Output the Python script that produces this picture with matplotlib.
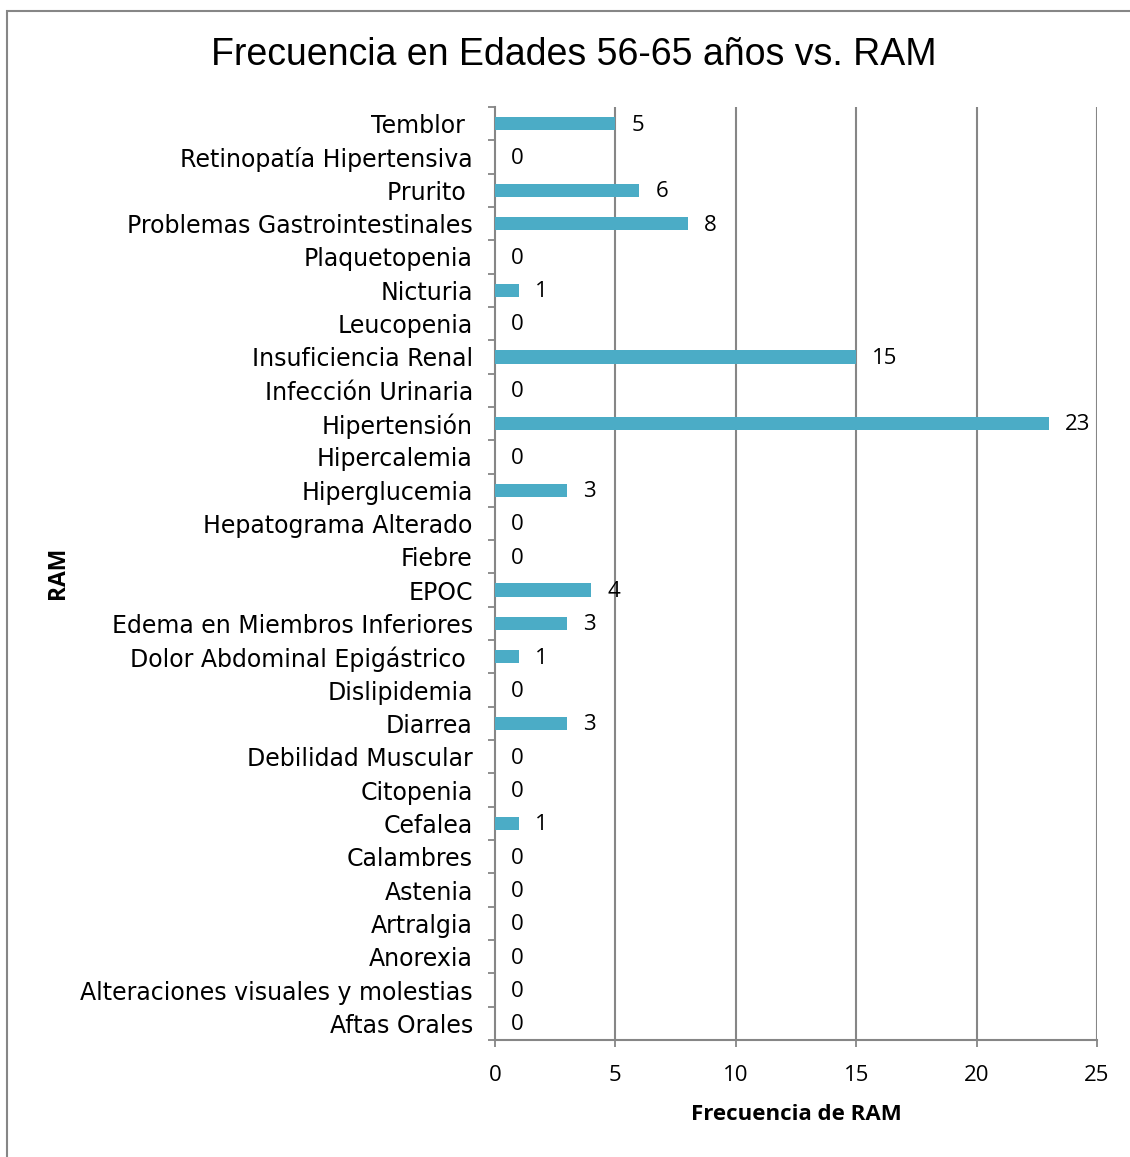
import matplotlib
matplotlib.use("Agg")
import matplotlib.pyplot as plt
from matplotlib.patches import Rectangle
import numpy as np

categories = [
    "Temblor ", "Retinopatía Hipertensiva", "Prurito ", "Problemas Gastrointestinales",
    "Plaquetopenia", "Nicturia", "Leucopenia", "Insuficiencia Renal",
    "Infección Urinaria", "Hipertensión", "Hipercalemia", "Hiperglucemia",
    "Hepatograma Alterado", "Fiebre", "EPOC", "Edema en Miembros Inferiores",
    "Dolor Abdominal Epigástrico ", "Dislipidemia", "Diarrea", "Debilidad Muscular",
    "Citopenia", "Cefalea", "Calambres", "Astenia", "Artralgia", "Anorexia",
    "Alteraciones visuales y molestias", "Aftas Orales",
]
values = [5, 0, 6, 8, 0, 1, 0, 15, 0, 23, 0, 3, 0, 0, 4, 3, 1, 0, 3, 0, 0, 1, 0, 0, 0, 0, 0, 0]
x_ticks = [0, 5, 10, 15, 20, 25]

title = "Frecuencia en Edades 56-65 años vs. RAM"
x_label = "Frecuencia de RAM"
y_label = "RAM"

bar_color = "#4bacc6"
grid_color = "#868686"
cat_font = ["DejaVu Sans"]
title_font = ["Liberation Sans", "DejaVu Sans"]
num_font = ["Open Sans", "DejaVu Sans"]

W, H = 1130, 1157
fig = plt.figure(figsize=(W / 100, H / 100), dpi=100)

# outer frame (left and top edges visible)
fig.patches.append(Rectangle((7 / W, -0.05), 1.2, 1 - 11 / H + 0.05,
                             transform=fig.transFigure, fill=False,
                             edgecolor=grid_color, linewidth=1.5))

left, right, top, bottom = 495, 1097, 107, 1040
ax = fig.add_axes([left / W, 1 - bottom / H, (right - left) / W, (bottom - top) / H])

n = len(categories)
y = np.arange(n)
ax.barh(y, values, height=0.4, color=bar_color, zorder=3)
ax.set_ylim(n - 0.5, -0.5)
ax.set_xlim(0, 25)

ax.set_xticks(x_ticks)
ax.set_xticklabels([str(t) for t in x_ticks], fontfamily=num_font, fontsize=16)
ax.tick_params(axis="x", length=5, width=1.3, color=grid_color, pad=13)

ax.set_yticks(y)
ax.set_yticklabels(categories, fontfamily=cat_font, fontsize=17)
ax.tick_params(axis="y", which="major", length=0, pad=16)
ax.set_yticks(np.arange(n + 1) - 0.5, minor=True)
ax.tick_params(axis="y", which="minor", length=5, width=1.3, color=grid_color)

for xv in x_ticks[1:]:
    ax.axvline(xv, color=grid_color, linewidth=1.5, zorder=1)

for s in ["top", "right"]:
    ax.spines[s].set_visible(False)
for s in ["left", "bottom"]:
    ax.spines[s].set_color(grid_color)
    ax.spines[s].set_linewidth(1.5)

for yi, v in zip(y, values):
    ax.annotate(str(v), (v, yi), xytext=(11.5, -1), textcoords="offset points",
                ha="left", va="center", fontfamily=num_font, fontsize=16)

fig.text(574 / W, 1 - 55 / H, title, ha="center", va="center",
         fontfamily=title_font, fontsize=27)
fig.text(796 / W, 1 - 1115 / H, x_label, ha="center", va="center",
         fontfamily=num_font, fontsize=16, fontweight="bold")
fig.text(58 / W, 1 - 573 / H, y_label, ha="center", va="center", rotation=90,
         fontfamily=num_font, fontsize=16.5, fontweight="bold")

fig.savefig("out.png", dpi=100)
